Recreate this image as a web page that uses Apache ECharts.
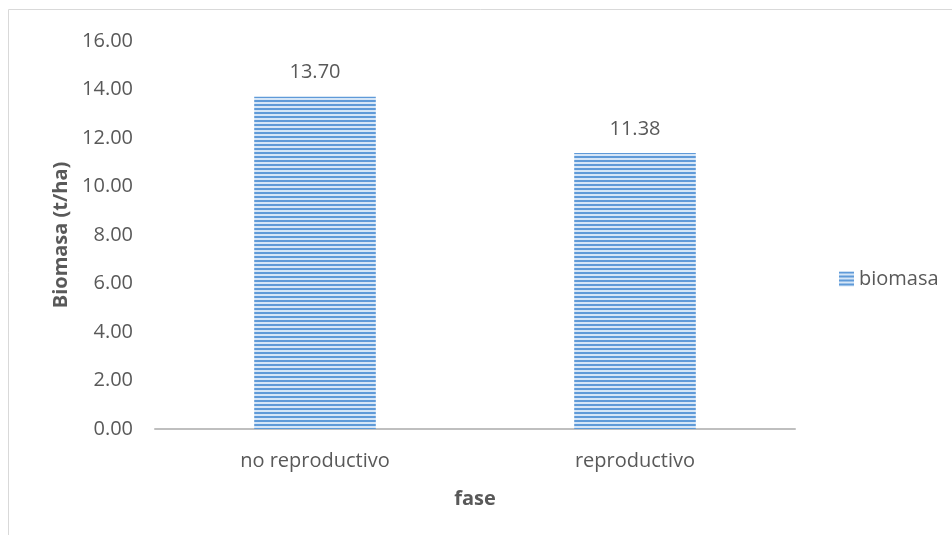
<!DOCTYPE html>
<html>
<head>
<meta charset="utf-8">
<script src="https://cdn.jsdelivr.net/npm/echarts@6/dist/echarts.min.js"></script>
<style>
  html, body { margin: 0; padding: 0; background: #fff; }
  #chart { width: 952px; height: 535px; }
</style>
</head>
<body>
<div id="chart"></div>
<script>
// data
var categories = ['no reproductivo', 'reproductivo'];
var biomasa = [13.70, 11.38];
var yTicks = { min: 0, max: 16, interval: 2 };

// striped fill like the original (horizontal lines)
var stripe = document.createElement('canvas');
stripe.width = 4;
stripe.height = 4;
var sctx = stripe.getContext('2d');
sctx.fillStyle = '#d6e6f7';
sctx.fillRect(0, 0, 4, 4);
sctx.fillStyle = '#5f9ad8';
sctx.fillRect(0, 0, 4, 2);

var textColor = '#595959';
var font = 'Open Sans, Liberation Sans, sans-serif';

var chart = echarts.init(document.getElementById('chart'));
chart.setOption({
    animation: false,
    textStyle: { fontFamily: font, color: textColor },
    graphic: [{
        type: 'rect',
        shape: { x: 8.5, y: 9.5, width: 960, height: 540 },
        style: { fill: 'none', stroke: '#d9d9d9', lineWidth: 1 },
        silent: true
    }],
    grid: { left: 155, right: 157, top: 41, bottom: 106 },
    legend: {
        data: ['biomasa'],
        orient: 'vertical',
        left: 834,
        top: 264,
        icon: 'rect',
        itemWidth: 15,
        itemHeight: 15,
        itemGap: 6,
        textStyle: { fontSize: 20, color: textColor, fontFamily: font }
    },
    xAxis: {
        type: 'category',
        data: categories,
        name: 'fase',
        nameLocation: 'middle',
        nameGap: 60,
        nameTextStyle: { fontSize: 20, fontWeight: 'bold', color: textColor },
        axisLine: { lineStyle: { color: '#bfbfbf', width: 2 } },
        axisTick: { show: false },
        axisLabel: { fontSize: 20, color: textColor, margin: 22 }
    },
    yAxis: {
        type: 'value',
        min: yTicks.min,
        max: yTicks.max,
        interval: yTicks.interval,
        name: 'Biomasa (t/ha)',
        nameLocation: 'middle',
        nameGap: 80,
        nameTextStyle: { fontSize: 20, fontWeight: 'bold', color: textColor },
        axisLine: { show: false },
        axisTick: { show: false },
        splitLine: { show: false },
        axisLabel: {
            fontSize: 20,
            color: textColor,
            margin: 22,
            formatter: function (v) { return v.toFixed(2); }
        }
    },
    series: [{
        name: 'biomasa',
        type: 'bar',
        data: biomasa,
        barWidth: '38%',
        itemStyle: { color: { image: stripe, repeat: 'repeat' } },
        label: {
            show: true,
            position: 'top',
            distance: 14,
            fontSize: 20,
            color: textColor,
            formatter: function (p) { return p.value.toFixed(2); }
        }
    }]
});
</script>
</body>
</html>
